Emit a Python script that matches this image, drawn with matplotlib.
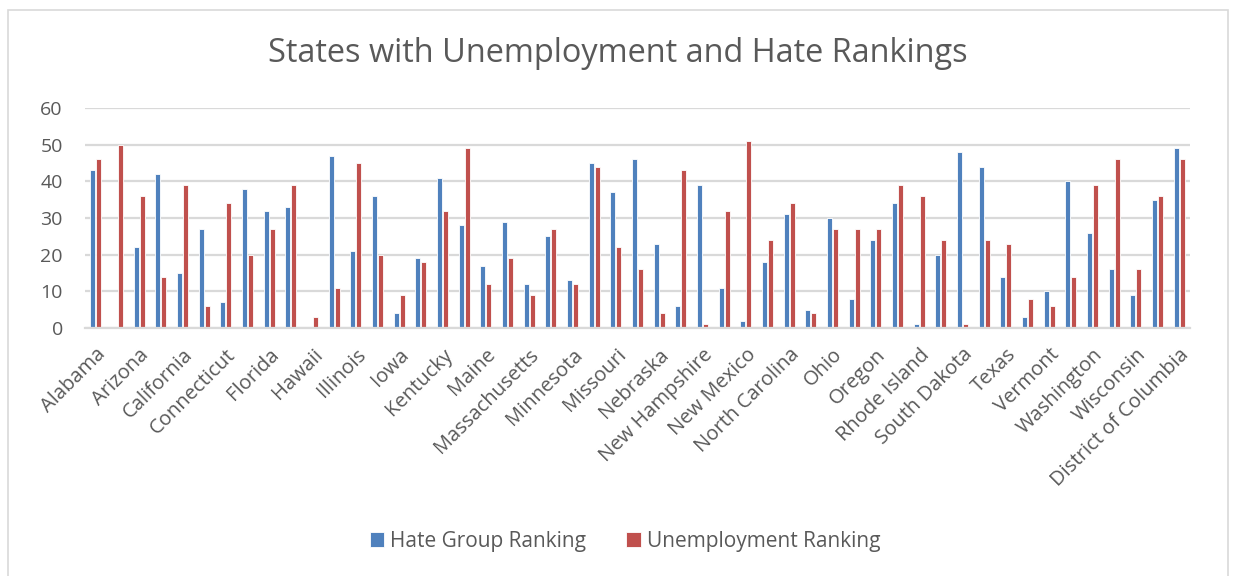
import matplotlib
matplotlib.use("Agg")
import matplotlib.pyplot as plt
from matplotlib.patches import Rectangle
import numpy as np

states = [
    "Alabama", "Alaska", "Arizona", "Arkansas", "California", "Colorado",
    "Connecticut", "Delaware", "Florida", "Georgia", "Hawaii", "Idaho",
    "Illinois", "Indiana", "Iowa", "Kansas", "Kentucky", "Louisiana", "Maine",
    "Maryland", "Massachusetts", "Michigan", "Minnesota", "Mississippi",
    "Missouri", "Montana", "Nebraska", "Nevada", "New Hampshire", "New Jersey",
    "New Mexico", "New York", "North Carolina", "North Dakota", "Ohio",
    "Oklahoma", "Oregon", "Pennsylvania", "Rhode Island", "South Carolina",
    "South Dakota", "Tennessee", "Texas", "Utah", "Vermont", "Virginia",
    "Washington", "West Virginia", "Wisconsin", "Wyoming",
    "District of Columbia",
]

hate_rank = [
    43, 0, 22, 42, 15, 27, 7, 38, 32, 33, 0, 47, 21, 36, 4, 19, 41, 28, 17,
    29, 12, 25, 13, 45, 37, 46, 23, 6, 39, 11, 2, 18, 31, 5, 30, 8, 24, 34,
    1, 20, 48, 44, 14, 3, 10, 40, 26, 16, 9, 35, 49,
]

unemployment_rank = [
    46, 50, 36, 14, 39, 6, 34, 20, 27, 39, 3, 11, 45, 20, 9, 18, 32, 49, 12,
    19, 9, 27, 12, 44, 22, 16, 4, 43, 1, 32, 51, 24, 34, 4, 27, 27, 27, 39,
    36, 24, 1, 24, 23, 8, 6, 14, 39, 46, 16, 36, 46,
]

y_ticks = [0, 10, 20, 30, 40, 50, 60]

BLUE = "#4F81BD"
RED = "#C0504D"
TEXT = "#595959"
GRID = "#D9D9D9"
FONT = "Open Sans"

plt.rcParams["font.family"] = [FONT, "DejaVu Sans"]

fig = plt.figure(figsize=(12.35, 5.76), dpi=100)
fig.patch.set_facecolor("white")

# chart frame
fig.add_artist(Rectangle((8 / 1235, -0.01), 1220 / 1235, 1 - 10 / 576 + 0.01,
                         transform=fig.transFigure, fill=False,
                         edgecolor="#D9D9D9", linewidth=1.2))

ax = fig.add_axes([85 / 1235, 1 - 328 / 576, 1105 / 1235, 220 / 576])

x = np.arange(len(states))
w = 0.235
off = 0.135
ax.bar(x - off, hate_rank, width=w, color=BLUE, edgecolor="white",
       linewidth=0.6, zorder=3, label="Hate Group Ranking")
ax.bar(x + off, unemployment_rank, width=w, color=RED, edgecolor="white",
       linewidth=0.6, zorder=3, label="Unemployment Ranking")

ax.set_xlim(-0.5, len(states) - 0.5)
ax.set_ylim(0, 60)
ax.set_yticks(y_ticks)
ax.yaxis.grid(True, color=GRID, linewidth=1.6, zorder=0)
ax.set_axisbelow(True)
for s in ["top", "right", "left"]:
    ax.spines[s].set_visible(False)
ax.spines["bottom"].set_color(GRID)
ax.spines["bottom"].set_linewidth(1.6)
ax.spines["bottom"].set_zorder(4)

ax.tick_params(axis="y", length=0, pad=16, labelsize=14, labelcolor=TEXT)
ax.tick_params(axis="x", length=0, pad=12, labelsize=14.5, labelcolor=TEXT)

shown = x[::2]
ax.set_xticks(shown)
ax.set_xticklabels([states[i] for i in shown], rotation=45, ha="right",
                   va="top", rotation_mode="anchor")

fig.text(618 / 1235, 1 - 53 / 576, "States with Unemployment and Hate Rankings",
         ha="center", va="center", fontsize=23.4, color=TEXT)

fig.legend(loc="center", bbox_to_anchor=(625 / 1235, 1 - 541 / 576), ncol=2,
           frameon=False, fontsize=15, labelcolor=TEXT, handlelength=0.7,
           handleheight=0.7, handletextpad=0.3, columnspacing=1.9)

fig.savefig("out.png", dpi=100, facecolor="white")
